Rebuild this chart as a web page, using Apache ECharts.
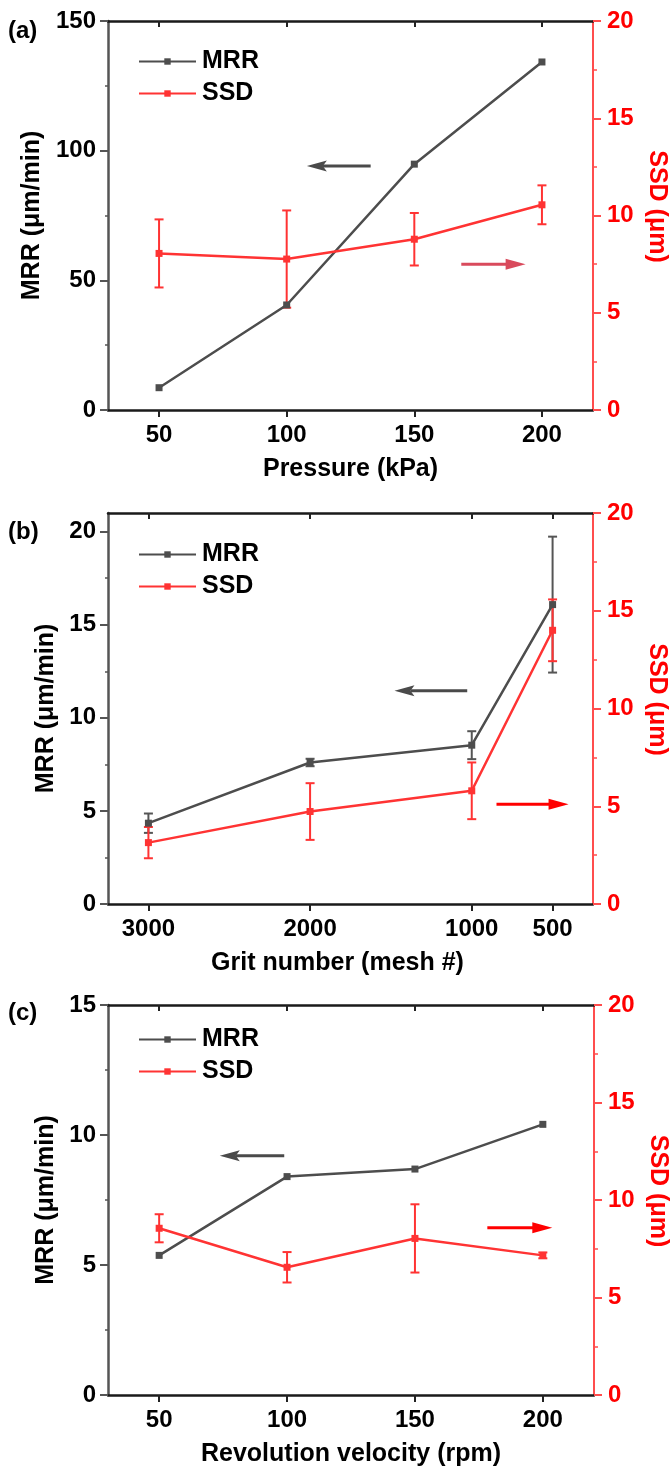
<!DOCTYPE html>
<html>
<head>
<meta charset="utf-8">
<script src="https://cdn.jsdelivr.net/npm/echarts@6.0.0/dist/echarts.min.js"></script>
<style>
html, body { margin: 0; padding: 0; background: #fff; }
#chart { width: 670px; height: 1466px; }
</style>
</head>
<body>
<div id="chart"></div>
<script>
// (a) pressure
var pressure = [50, 100, 150, 200];
var mrrA = [8.6, 40.5, 94.8, 134.2];
var ssdA = [8.05, 7.76, 8.78, 10.55];
var ssdErrA = [1.75, 2.5, 1.35, 1.0];

// (b) grit number
var grit = [3000, 2000, 1000, 500];
var mrrB = [4.34, 7.6, 8.53, 16.08];
var mrrErrB = [0.52, 0.2, 0.75, 3.65];
var ssdB = [3.14, 4.73, 5.79, 14.0];
var ssdErrB = [0.8, 1.45, 1.45, 1.58];

// (c) revolution velocity
var velocity = [50, 100, 150, 200];
var mrrC = [5.37, 8.40, 8.69, 10.41];
var ssdC = [8.55, 6.55, 8.03, 7.16];
var ssdErrC = [0.72, 0.78, 1.75, 0.15];

// tick labels
var mrrTicksA = [0, 50, 100, 150];
var mrrTicksB = [0, 5, 10, 15, 20];
var mrrTicksC = [0, 5, 10, 15];
var ssdTicks = [0, 5, 10, 15, 20];

// arrows: [x tail, x tip, y]
var arrowMrrA = [132.9, 107.9, 94.1];
var arrowSsdA = [168.4, 193.6, 7.5];
var arrowMrrB = [1028, 1478, 11.45];
var arrowSsdB = [847, 401, 5.1];
var arrowMrrC = [98.9, 73.7, 9.2];
var arrowSsdC = [178.3, 203.7, 8.58];

var FONT = 'Liberation Sans, Arial, sans-serif';
var GREY = '#4d4d4d';
var RED = '#ff3333';

function pairs(xs, ys) {
  return xs.map(function (x, i) { return [x, ys[i]]; });
}
function errs(xs, ys, es) {
  return xs.map(function (x, i) { return [x, ys[i] - es[i], ys[i] + es[i]]; });
}

function errorSeries(name, xi, yi, data, color) {
  return {
    name: name,
    type: 'custom',
    xAxisIndex: xi,
    yAxisIndex: yi,
    silent: true,
    z: 3,
    data: data,
    renderItem: function (params, api) {
      var lo = api.coord([api.value(0), api.value(1)]);
      var hi = api.coord([api.value(0), api.value(2)]);
      var w = 4.5;
      var st = { stroke: color, lineWidth: 2 };
      return {
        type: 'group',
        children: [
          { type: 'line', shape: { x1: lo[0], y1: lo[1], x2: hi[0], y2: hi[1] }, style: st },
          { type: 'line', shape: { x1: lo[0] - w, y1: lo[1], x2: lo[0] + w, y2: lo[1] }, style: st },
          { type: 'line', shape: { x1: hi[0] - w, y1: hi[1], x2: hi[0] + w, y2: hi[1] }, style: st }
        ]
      };
    }
  };
}

function arrowSeries(xi, yi, a, color, notch) {
  return {
    name: 'arrow',
    type: 'custom',
    xAxisIndex: xi,
    yAxisIndex: yi,
    silent: true,
    z: 2,
    data: [a],
    renderItem: function (params, api) {
      var y = api.value(2);
      var p0 = api.coord([api.value(0), y]);
      var p1 = api.coord([api.value(1), y]);
      var d = p1[0] > p0[0] ? 1 : -1;
      var L = 20, hw = 5.5;
      var back = p1[0] - d * L;
      var inner = p1[0] - d * L * (notch ? 0.8 : 1);
      return {
        type: 'group',
        children: [
          { type: 'line', shape: { x1: p0[0], y1: p0[1], x2: back + d * 4, y2: p0[1] },
            style: { stroke: color, lineWidth: 3 } },
          { type: 'polygon', shape: { points: [[p1[0], p1[1]], [back, p1[1] - hw], [inner, p1[1]], [back, p1[1] + hw]] },
            style: { fill: color } }
        ]
      };
    }
  };
}

function lineSeries(name, xi, yi, data, color) {
  return {
    name: name,
    type: 'line',
    xAxisIndex: xi,
    yAxisIndex: yi,
    data: data,
    symbol: 'rect',
    symbolSize: 7,
    z: 4,
    lineStyle: { color: color, width: 2.5 },
    itemStyle: { color: color }
  };
}

var grids = [
  { left: 108, top: 21, width: 485, height: 389, outerBoundsMode: 'none', containLabel: false },
  { left: 108, top: 513, width: 485, height: 391, outerBoundsMode: 'none', containLabel: false },
  { left: 108, top: 1005, width: 486, height: 390, outerBoundsMode: 'none', containLabel: false }
];

var xCfg = [
  { min: 30, max: 220, inverse: false, ticks: pressure, name: 'Pressure (kPa)', namePad: [0, 0, 0, 0] },
  { min: 250, max: 3250, inverse: true, ticks: grit, name: 'Grit number (mesh #)', namePad: [0, 26, 0, 0] },
  { min: 30, max: 220, inverse: false, ticks: velocity, name: 'Revolution velocity (rpm)', namePad: [0, 0, 0, 0] }
];
var yCfg = [
  { max: 150, interval: 50, ticks: mrrTicksA, gap: 54 },
  { max: 21, interval: 5, ticks: mrrTicksB, gap: 40 },
  { max: 15, interval: 5, ticks: mrrTicksC, gap: 39 }
];

var xAxes = [], yAxes = [];
xCfg.forEach(function (c, i) {
  xAxes.push({
    type: 'value', gridIndex: i, position: 'bottom', min: c.min, max: c.max, inverse: c.inverse,
    axisLine: { onZero: false, lineStyle: { color: '#1a1a1a', width: 2.5 } },
    axisTick: { customValues: c.ticks, length: 7, lineStyle: { color: '#222', width: 2 } },
    axisLabel: { customValues: c.ticks, margin: 13, fontSize: 24, fontWeight: 'bold', color: '#000', fontFamily: FONT,
      formatter: function (v) { return String(v); } },
    splitLine: { show: false },
    name: c.name, nameLocation: 'middle', nameGap: 47,
    nameTextStyle: { fontSize: 25, fontWeight: 'bold', color: '#000', fontFamily: FONT, padding: c.namePad }
  });
  xAxes.push({
    type: 'value', gridIndex: i, position: 'top', min: c.min, max: c.max, inverse: c.inverse,
    axisLine: { onZero: false, lineStyle: { color: '#1a1a1a', width: 2.5 } },
    axisTick: { customValues: c.ticks, inside: true, length: 6, lineStyle: { color: '#222', width: 2 } },
    axisLabel: { show: false },
    splitLine: { show: false }
  });
});
yCfg.forEach(function (c, i) {
  yAxes.push({
    type: 'value', gridIndex: i, position: 'left', min: 0, max: c.max, interval: c.interval,
    axisLine: { show: true, onZero: false, lineStyle: { color: '#555', width: 2.5 } },
    axisTick: { customValues: c.ticks, length: 8, lineStyle: { color: '#555', width: 2 } },
    minorTick: { show: true, splitNumber: 2, length: 3, lineStyle: { color: '#555', width: 1.5 } },
    axisLabel: { customValues: c.ticks, margin: 12, fontSize: 24, fontWeight: 'bold', color: '#000', fontFamily: FONT },
    splitLine: { show: false },
    name: 'MRR (μm/min)', nameLocation: 'middle', nameGap: c.gap,
    nameTextStyle: { fontSize: 25, fontWeight: 'bold', color: '#000', fontFamily: FONT }
  });
  yAxes.push({
    type: 'value', gridIndex: i, position: 'right', min: 0, max: 20, interval: 5,
    axisLine: { show: true, onZero: false, lineStyle: { color: '#ff4d4d', width: 2 } },
    axisTick: { customValues: ssdTicks, length: 8, lineStyle: { color: '#ff4d4d', width: 2 } },
    minorTick: { show: true, splitNumber: 2, length: 4, lineStyle: { color: '#ff4d4d', width: 1.5 } },
    axisLabel: { customValues: ssdTicks, margin: 14, fontSize: 24, fontWeight: 'bold', color: '#ff0000', fontFamily: FONT },
    splitLine: { show: false },
    name: 'SSD (μm)', nameLocation: 'middle', nameGap: 48, nameRotate: -90,
    nameTextStyle: { fontSize: 25, fontWeight: 'bold', color: '#ff0000', fontFamily: FONT, padding: [0, 18, 0, 0] }
  });
});

var series = [
  errorSeries('SSD err a', 0, 1, errs(pressure, ssdA, ssdErrA), RED),
  lineSeries('MRR', 0, 0, pairs(pressure, mrrA), GREY),
  lineSeries('SSD', 0, 1, pairs(pressure, ssdA), RED),
  arrowSeries(0, 0, arrowMrrA, '#4a4a4a', true),
  arrowSeries(0, 1, arrowSsdA, '#d94a5c', false),

  errorSeries('MRR err b', 2, 2, errs(grit, mrrB, mrrErrB), '#555'),
  errorSeries('SSD err b', 2, 3, errs(grit, ssdB, ssdErrB), RED),
  lineSeries('MRR', 2, 2, pairs(grit, mrrB), GREY),
  lineSeries('SSD', 2, 3, pairs(grit, ssdB), RED),
  arrowSeries(2, 2, arrowMrrB, '#4a4a4a', true),
  arrowSeries(2, 3, arrowSsdB, '#ff0000', false),

  errorSeries('SSD err c', 4, 5, errs(velocity, ssdC, ssdErrC), RED),
  lineSeries('MRR', 4, 4, pairs(velocity, mrrC), GREY),
  lineSeries('SSD', 4, 5, pairs(velocity, ssdC), RED),
  arrowSeries(4, 4, arrowMrrC, '#4a4a4a', true),
  arrowSeries(4, 5, arrowSsdC, '#ff0000', false)
];

function legendAt(top) {
  return {
    orient: 'vertical', left: 133, top: top,
    itemWidth: 57, itemHeight: 8, itemGap: 7,
    selectedMode: false,
    data: ['MRR', 'SSD'],
    textStyle: { fontSize: 25, fontWeight: 'bold', color: '#000', fontFamily: FONT, padding: [0, 0, 0, 1] }
  };
}

var chart = echarts.init(document.getElementById('chart'));
chart.setOption({
  animation: false,
  backgroundColor: '#fff',
  grid: grids,
  xAxis: xAxes,
  yAxis: yAxes,
  legend: [legendAt(44), legendAt(537), legendAt(1022)],
  graphic: [
    { type: 'text', left: 8, top: 19, style: { text: '(a)', fontSize: 24, fontWeight: 'bold', fill: '#000', fontFamily: FONT } },
    { type: 'text', left: 8, top: 520, style: { text: '(b)', fontSize: 24, fontWeight: 'bold', fill: '#000', fontFamily: FONT } },
    { type: 'text', left: 8, top: 1001, style: { text: '(c)', fontSize: 24, fontWeight: 'bold', fill: '#000', fontFamily: FONT } }
  ],
  series: series
});
</script>
</body>
</html>
